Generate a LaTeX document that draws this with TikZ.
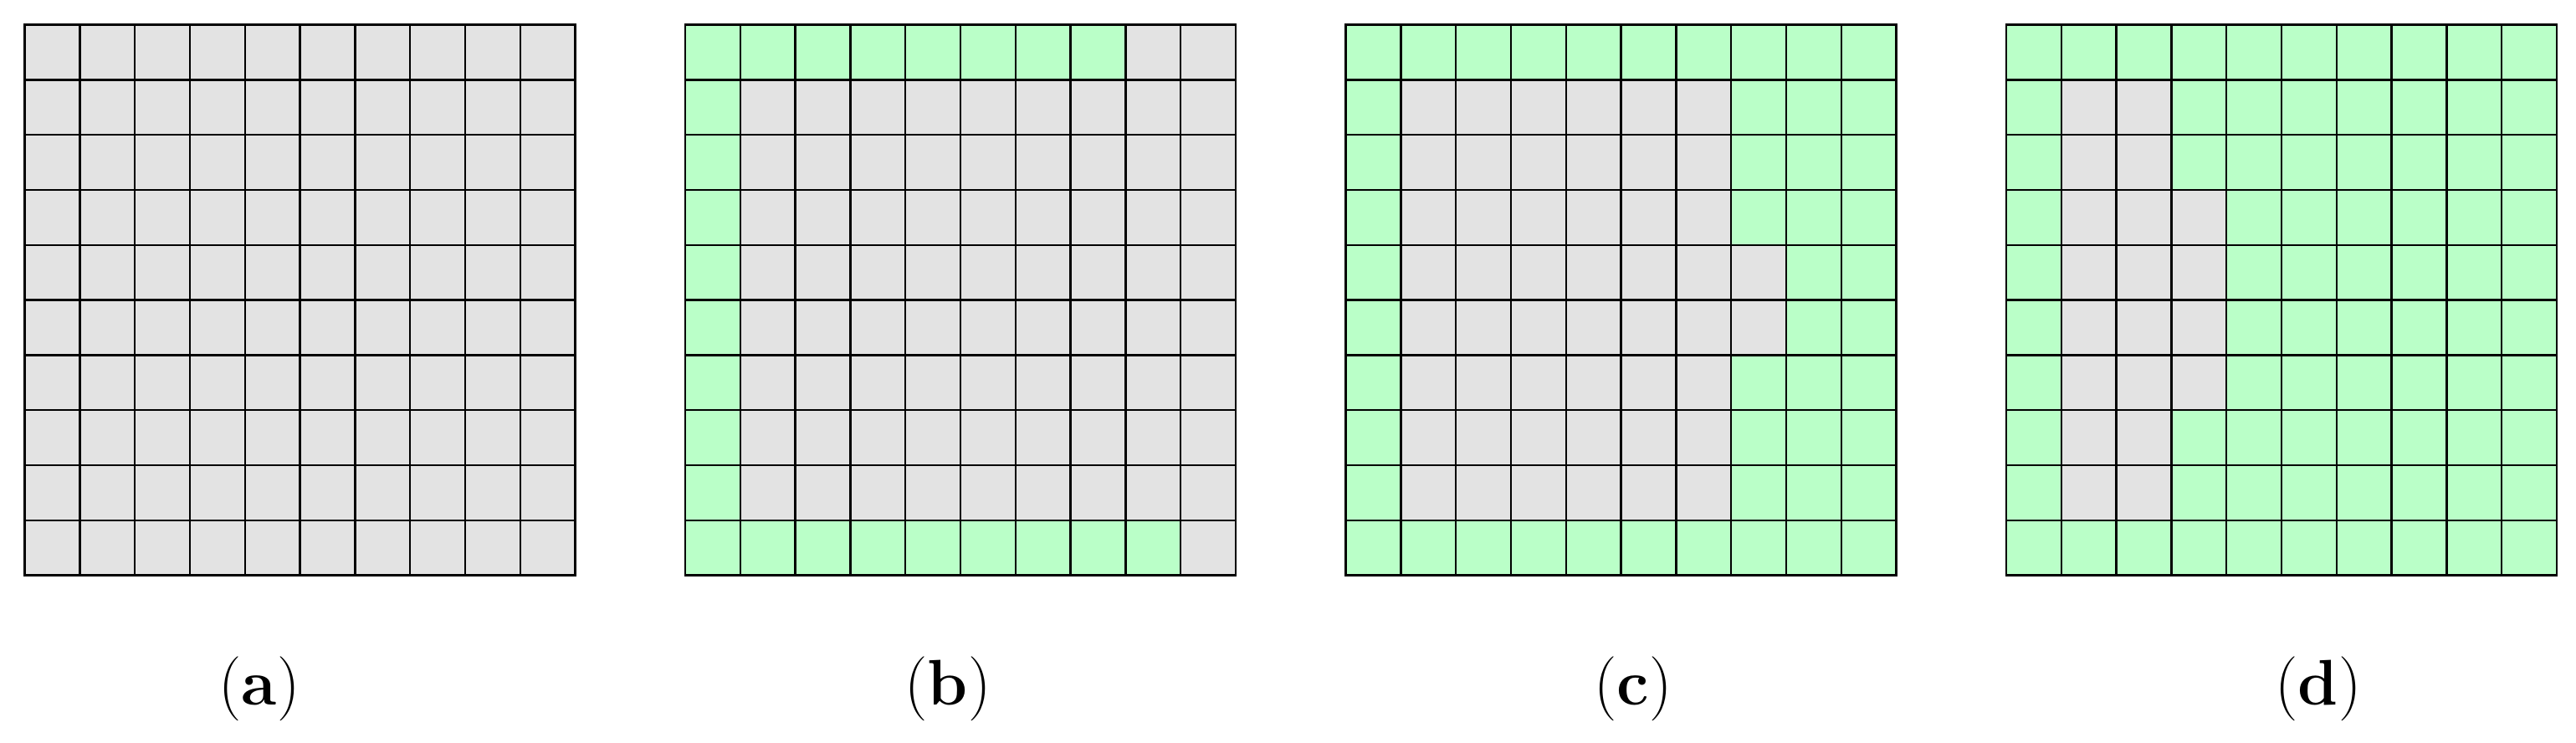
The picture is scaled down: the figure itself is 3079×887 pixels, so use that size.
\documentclass[tikz,border=0pt]{standalone}
\definecolor{cellgray}{RGB}{227,227,227}
\definecolor{cellgreen}{RGB}{186,255,200}
\begin{document}
\begin{tikzpicture}[x=1pt,y=-1pt,
  gridline/.style={line width=2.4pt, black},
  greencell/.style={fill=cellgreen},
  graycell/.style={fill=cellgray},
  caption/.style={font=\fontsize{77}{92}\selectfont, inner sep=0pt, anchor=center}]
\useasboundingbox (0,0) rectangle (3079,887);
% (a)
\begin{scope}[shift={(29.5,29.5)}, x=65.8pt, y=-65.8pt]
  \fill[graycell] (0,0) rectangle (10,10);
  \foreach \i in {0,...,10} {\draw[gridline] (\i,0) -- (\i,10); \draw[gridline] (0,\i) -- (10,\i);}
  \draw[gridline, line join=miter] (0,0) rectangle (10,10);
\end{scope}
% (b)
\begin{scope}[shift={(819,29.5)}, x=65.8pt, y=-65.8pt]
  \fill[graycell] (0,0) rectangle (10,10);
  \fill[greencell] (0,0) rectangle (8,1);
  \fill[greencell] (0,0) rectangle (1,10);
  \fill[greencell] (0,9) rectangle (9,10);
  \foreach \i in {0,...,10} {\draw[gridline] (\i,0) -- (\i,10); \draw[gridline] (0,\i) -- (10,\i);}
  \draw[gridline, line join=miter] (0,0) rectangle (10,10);
\end{scope}
% (c)
\begin{scope}[shift={(1608.5,29.5)}, x=65.8pt, y=-65.8pt]
  \fill[greencell] (0,0) rectangle (10,10);
  \fill[graycell] (1,1) rectangle (7,9);
  \fill[graycell] (7,4) rectangle (8,6);
  \foreach \i in {0,...,10} {\draw[gridline] (\i,0) -- (\i,10); \draw[gridline] (0,\i) -- (10,\i);}
  \draw[gridline, line join=miter] (0,0) rectangle (10,10);
\end{scope}
% (d)
\begin{scope}[shift={(2398,29.5)}, x=65.8pt, y=-65.8pt]
  \fill[greencell] (0,0) rectangle (10,10);
  \fill[graycell] (1,1) rectangle (3,9);
  \fill[graycell] (3,3) rectangle (4,7);
  \foreach \i in {0,...,10} {\draw[gridline] (\i,0) -- (\i,10); \draw[gridline] (0,\i) -- (10,\i);}
  \draw[gridline, line join=miter] (0,0) rectangle (10,10);
\end{scope}
% captions
\node[caption] (la) at (310,823) {(\textbf{a})};
\node[caption] (lb) at (1133,823) {(\textbf{b})};
\node[caption] (lc) at (1952,823) {(\textbf{c})};
\node[caption] (ld) at (2771,823) {(\textbf{d})};
\end{tikzpicture}
\end{document}
